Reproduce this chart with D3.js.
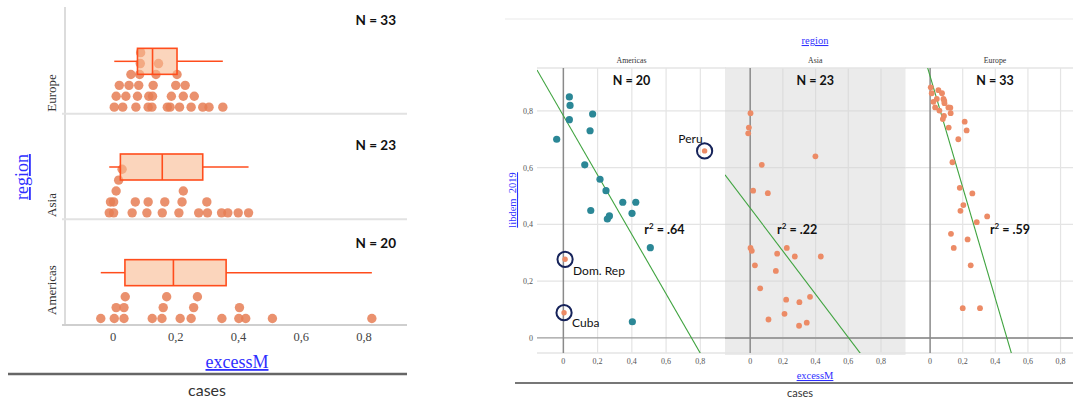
<!DOCTYPE html>
<html><head><meta charset="utf-8">
<script src="https://cdn.jsdelivr.net/npm/d3@7"></script>
<style>body{margin:0;background:#fff;} svg{display:block}</style>
</head><body>
<svg id="c" width="1073" height="401"></svg>
<script>
// ---------------- DATA ----------------
const regions = ["Americas", "Asia", "Europe"];
const leftOrder = ["Europe", "Asia", "Americas"];

const americasExcess = [-0.039, 0.035, 0.039, 0.035, 0.171, 0.156, 0.125, 0.214, 0.249, 0.347, 0.423, 0.825, 0.160, 0.269, 0.257, 0.401, 0.508, 0.010, 0.004, 0.403];
const americasLibdem = [0.700, 0.849, 0.819, 0.769, 0.789, 0.730, 0.610, 0.559, 0.519, 0.478, 0.478, 0.659, 0.449, 0.430, 0.419, 0.439, 0.318, 0.277, 0.089, 0.057];
const americasNames  = ["", "", "", "", "", "", "", "", "", "", "", "Peru", "", "", "", "", "", "Dom. Rep", "Cuba", ""];

const asiaExcess = [0.002, -0.008, -0.012, 0.399, 0.071, 0.018, 0.108, 0.002, 0.010, 0.165, 0.224, 0.273, 0.432, 0.029, 0.157, 0.061, 0.220, 0.366, 0.301, 0.112, 0.210, 0.299, 0.346];
const asiaLibdem = [0.792, 0.741, 0.721, 0.640, 0.610, 0.519, 0.510, 0.317, 0.307, 0.297, 0.317, 0.287, 0.287, 0.256, 0.236, 0.175, 0.135, 0.145, 0.126, 0.065, 0.085, 0.043, 0.054];

const europeExcess = [0.004, 0.010, 0.051, 0.073, 0.041, 0.020, 0.082, 0.088, 0.031, 0.057, 0.112, 0.124, 0.126, 0.085, 0.078, 0.212, 0.224, 0.114, 0.173, 0.137, 0.182, 0.259, 0.204, 0.186, 0.350, 0.286, 0.128, 0.230, 0.145, 0.249, 0.200, 0.306, 0.087];
const europeLibdem = [0.883, 0.862, 0.873, 0.862, 0.842, 0.832, 0.842, 0.827, 0.812, 0.801, 0.812, 0.811, 0.792, 0.782, 0.771, 0.762, 0.731, 0.741, 0.700, 0.619, 0.529, 0.509, 0.468, 0.448, 0.428, 0.408, 0.367, 0.347, 0.317, 0.256, 0.105, 0.105, 0.835];

// fitted lines: libdem = intercept + slope * excessM
const fitIntercept = [0.783, 0.458, 0.922];
const fitSlope     = [-1.046, -0.760, -1.957];
const r2Labels     = [".64", ".22", ".59"];

const xTicks = [0, 0.2, 0.4, 0.6, 0.8];
const yTicks = [0, 0.2, 0.4, 0.6, 0.8];

// ---------------- SETUP ----------------
const excessBy = {Americas: americasExcess, Asia: asiaExcess, Europe: europeExcess};
const libdemBy = {Americas: americasLibdem, Asia: asiaLibdem, Europe: europeLibdem};
const svg = d3.select("#c");
const serif = "'Liberation Serif','DejaVu Serif',serif";
const sans = "Lato,'Open Sans','Liberation Sans',sans-serif";
const blue = "#2f2fff";
const fmt = d => d === 0 ? "0" : d3.format(".1f")(d).replace(".", ",");

// ================= LEFT: dot plot + box plots =================
const xL = d3.scaleLinear().domain([-0.153, 0.937]).range([65, 407]);
const yL = d3.scaleBand().domain(leftOrder).range([8, 325]);
const L = svg.append("g");

L.append("line").attr("x1", 65).attr("x2", 65).attr("y1", 7).attr("y2", 325)
  .attr("stroke", "#dcdcdc").attr("stroke-width", 2);
leftOrder.forEach((r, i) => {
  const yb = yL(r) + yL.bandwidth();
  L.append("line").attr("x1", 62).attr("x2", 407).attr("y1", yb).attr("y2", yb)
    .attr("stroke", i === 2 ? "#cfcfcf" : "#e2e2e2").attr("stroke-width", 2);
});
L.selectAll(".xtl").data(xTicks).join("text")
  .attr("x", d => xL(d)).attr("y", 341).attr("text-anchor", "middle")
  .attr("font-family", serif).attr("font-size", 12.5).attr("fill", "#444").text(fmt);

const dotR = 4.7;
const binW = xL.invert(xL(0) + 2 * dotR) - xL.invert(xL(0));
const rowGap = 10.9;
const nLabelY = {Europe: 25, Asia: 150, Americas: 248};
const catLabelY = {Europe: 93, Asia: 205, Americas: 290};

leftOrder.forEach(r => {
  const vals = excessBy[r].slice().sort(d3.ascending);
  const yb = yL(r) + yL.bandwidth();
  const counts = {};
  const dots = vals.map(v => {
    const b = Math.floor(v / binW + 1e-9);
    counts[b] = (counts[b] || 0);
    const row = counts[b]++;
    return {v, row};
  });
  L.append("g").selectAll("circle").data(dots).join("circle")
    .attr("cx", d => xL(d.v)).attr("cy", d => yb - 6.5 - d.row * rowGap)
    .attr("r", dotR).attr("fill", "#e67e55").attr("fill-opacity", 0.85);

  const q1 = d3.quantile(vals, 0.25), med = d3.quantile(vals, 0.5), q3 = d3.quantile(vals, 0.75);
  const lo = d3.min(vals), hi = d3.max(vals);
  const cy = yL(r) + yL.bandwidth() / 2 + 0.5;
  const bh = 26;
  const st = "#ff4d1c";
  L.append("line").attr("x1", xL(lo)).attr("x2", xL(q1)).attr("y1", cy).attr("y2", cy).attr("stroke", st).attr("stroke-width", 1.5);
  L.append("line").attr("x1", xL(q3)).attr("x2", xL(hi)).attr("y1", cy).attr("y2", cy).attr("stroke", st).attr("stroke-width", 1.5);
  L.append("rect").attr("x", xL(q1)).attr("y", cy - bh / 2).attr("width", xL(q3) - xL(q1)).attr("height", bh)
    .attr("fill", "#f9b98f").attr("fill-opacity", 0.6).attr("stroke", st).attr("stroke-width", 1.6);
  L.append("line").attr("x1", xL(med)).attr("x2", xL(med)).attr("y1", cy - bh / 2).attr("y2", cy + bh / 2).attr("stroke", st).attr("stroke-width", 1.6);

  L.append("text").attr("x", 396).attr("y", nLabelY[r]).attr("text-anchor", "end")
    .attr("font-family", sans).attr("font-weight", "bold").attr("font-size", 13.5).attr("fill", "#111")
    .text("N = " + vals.length);
  L.append("text").attr("transform", `translate(56,${catLabelY[r]}) rotate(-90)`).attr("text-anchor", "middle")
    .attr("font-family", serif).attr("font-size", 13).attr("fill", "#333").text(r);
});

L.append("text").attr("transform", "translate(28,177) rotate(-90)").attr("text-anchor", "middle")
  .attr("font-family", serif).attr("font-size", 18).attr("fill", blue)
  .style("text-decoration", "underline").text("region");
L.append("text").attr("x", 237).attr("y", 368).attr("text-anchor", "middle")
  .attr("font-family", serif).attr("font-size", 18).attr("fill", blue)
  .style("text-decoration", "underline").text("excessM");
L.append("line").attr("x1", 8).attr("x2", 407).attr("y1", 374).attr("y2", 374).attr("stroke", "#666").attr("stroke-width", 2.5);
L.append("text").attr("x", 207).attr("y", 396).attr("text-anchor", "middle")
  .attr("font-family", sans).attr("font-size", 16).attr("fill", "#333").text("cases");

// ================= RIGHT: faceted scatter plots =================
const R = svg.append("g");
const panelRange = [[537, 726], [725, 905.5], [905, 1085]];
const xDom = [-0.154, 0.95];
const yR = d3.scaleLinear().domain([-0.053, 0.951]).range([353, 68]);
const pTop = 68, pBot = 353;

R.append("line").attr("x1", 505).attr("x2", 1073).attr("y1", 19).attr("y2", 19).attr("stroke", "#f1f1f1").attr("stroke-width", 1.5);

const nPos = 0.909, r2Y = 0.384, r2X = [0.59, 0.287, 0.49];

regions.forEach((reg, i) => {
  const xs = d3.scaleLinear().domain(xDom).range(panelRange[i]);
  const g = R.append("g");
  const [x0, x1] = panelRange[i];
  const clipId = "clip" + i;
  svg.append("clipPath").attr("id", clipId).append("rect")
    .attr("x", x0).attr("y", pTop).attr("width", x1 - x0).attr("height", pBot - pTop);
  if (reg === "Asia") {
    g.append("rect").attr("x", x0).attr("y", pTop).attr("width", x1 - x0).attr("height", pBot - pTop + 2).attr("fill", "#ebebeb");
  }
  g.selectAll(".gv").data(xTicks.filter(d => d > 0)).join("line")
    .attr("x1", d => xs(d)).attr("x2", d => xs(d)).attr("y1", pTop).attr("y2", pBot)
    .attr("stroke", reg === "Asia" ? "#dcdcdc" : "#e4e4e4").attr("stroke-width", 1.2);
  g.selectAll(".gh").data(yTicks.filter(d => d > 0)).join("line")
    .attr("x1", x0).attr("x2", x1).attr("y1", d => yR(d)).attr("y2", d => yR(d))
    .attr("stroke", reg === "Asia" ? "#dcdcdc" : "#e4e4e4").attr("stroke-width", 1.2);
  g.append("line").attr("x1", x0).attr("x2", x1).attr("y1", pTop).attr("y2", pTop).attr("stroke", "#e4e4e4").attr("stroke-width", 1.5);
  g.append("line").attr("x1", x0).attr("x2", x1).attr("y1", pBot).attr("y2", pBot).attr("stroke", "#e4e4e4").attr("stroke-width", 1.5);
  g.append("line").attr("x1", x0).attr("x2", x1).attr("y1", yR(0)).attr("y2", yR(0))
    .attr("stroke", "#9d9d9d").attr("stroke-width", i === 0 ? 1.3 : 2);
  g.append("line").attr("x1", xs(0)).attr("x2", xs(0)).attr("y1", pTop).attr("y2", pBot)
    .attr("stroke", "#8a8a8a").attr("stroke-width", 1.5);

  g.selectAll(".xt").data(xTicks).join("text")
    .attr("x", d => xs(d)).attr("y", 364).attr("text-anchor", "middle")
    .attr("font-family", serif).attr("font-size", 8).attr("fill", "#555").text(fmt);

  g.append("text").attr("x", (x0 + x1) / 2).attr("y", 63).attr("text-anchor", "middle")
    .attr("font-family", serif).attr("font-size", 7.8).attr("fill", "#333").text(reg);

  const fx = [xDom[0], xDom[1]];
  g.append("line").attr("clip-path", `url(#${clipId})`)
    .attr("x1", xs(fx[0])).attr("y1", yR(fitIntercept[i] + fitSlope[i] * fx[0]))
    .attr("x2", xs(fx[1])).attr("y2", yR(fitIntercept[i] + fitSlope[i] * fx[1]))
    .attr("stroke", "#3fa33f").attr("stroke-width", 1.1);

  const ex = excessBy[reg], ld = libdemBy[reg];
  const pts = ex.map((v, k) => ({x: v, y: ld[k], name: reg === "Americas" ? americasNames[k] : ""}));
  g.append("g").selectAll("circle").data(pts).join("circle")
    .attr("cx", d => xs(d.x)).attr("cy", d => yR(d.y))
    .attr("r", d => reg === "Americas" ? (d.name ? 2.7 : 3.6) : 2.9)
    .attr("fill", d => (reg === "Americas" && !d.name) ? "#2b8796" : "#ec8b66");

  g.append("text").attr("x", (x0 + x1) / 2).attr("y", yR(nPos) + 5).attr("text-anchor", "middle")
    .attr("font-family", sans).attr("font-weight", "bold").attr("font-size", 12.5).attr("fill", "#111")
    .text("N = " + ex.length);
  const t = g.append("text").attr("x", xs(r2X[i])).attr("y", yR(r2Y) + 5).attr("text-anchor", "middle")
    .attr("font-family", sans).attr("font-weight", "bold").attr("font-size", 12.5).attr("fill", "#111");
  t.append("tspan").text("r");
  t.append("tspan").attr("font-size", 8).attr("dy", -5).text("2");
  t.append("tspan").attr("dy", 5).text(" = " + r2Labels[i]);

  if (reg === "Americas") {
    const ann = pts.filter(d => d.name);
    g.selectAll(".ring").data(ann).join("circle")
      .attr("cx", d => xs(d.x)).attr("cy", d => yR(d.y)).attr("r", 7.6)
      .attr("fill", "none").attr("stroke", "#16235a").attr("stroke-width", 2);
    const off = {"Peru": [-2, -8, "end"], "Dom. Rep": [8, 16, "start"], "Cuba": [8, 14, "start"]};
    g.selectAll(".annt").data(ann).join("text")
      .attr("x", d => xs(d.x) + off[d.name][0]).attr("y", d => yR(d.y) + off[d.name][1])
      .attr("text-anchor", d => off[d.name][2])
      .attr("font-family", sans).attr("font-size", 12).attr("fill", "#111").text(d => d.name);
    g.selectAll(".yt").data(yTicks).join("text")
      .attr("x", 533).attr("y", d => yR(d) + 3).attr("text-anchor", "end")
      .attr("font-family", serif).attr("font-size", 8).attr("fill", "#555").text(fmt);
  }
});

R.append("text").attr("x", 815).attr("y", 44).attr("text-anchor", "middle")
  .attr("font-family", serif).attr("font-size", 10.5).attr("fill", blue)
  .style("text-decoration", "underline").text("region");
R.append("text").attr("transform", "translate(516,200) rotate(-90)").attr("text-anchor", "middle")
  .attr("font-family", serif).attr("font-size", 10.5).attr("fill", blue)
  .style("text-decoration", "underline").text("libdem_2019");
R.append("text").attr("x", 815).attr("y", 379).attr("text-anchor", "middle")
  .attr("font-family", serif).attr("font-size", 10.5).attr("fill", blue)
  .style("text-decoration", "underline").text("excessM");
R.append("line").attr("x1", 515).attr("x2", 1073).attr("y1", 383).attr("y2", 383).attr("stroke", "#777").attr("stroke-width", 2);
R.append("text").attr("x", 800).attr("y", 397).attr("text-anchor", "middle")
  .attr("font-family", sans).attr("font-size", 11).attr("fill", "#333").text("cases");
</script>
</body></html>
